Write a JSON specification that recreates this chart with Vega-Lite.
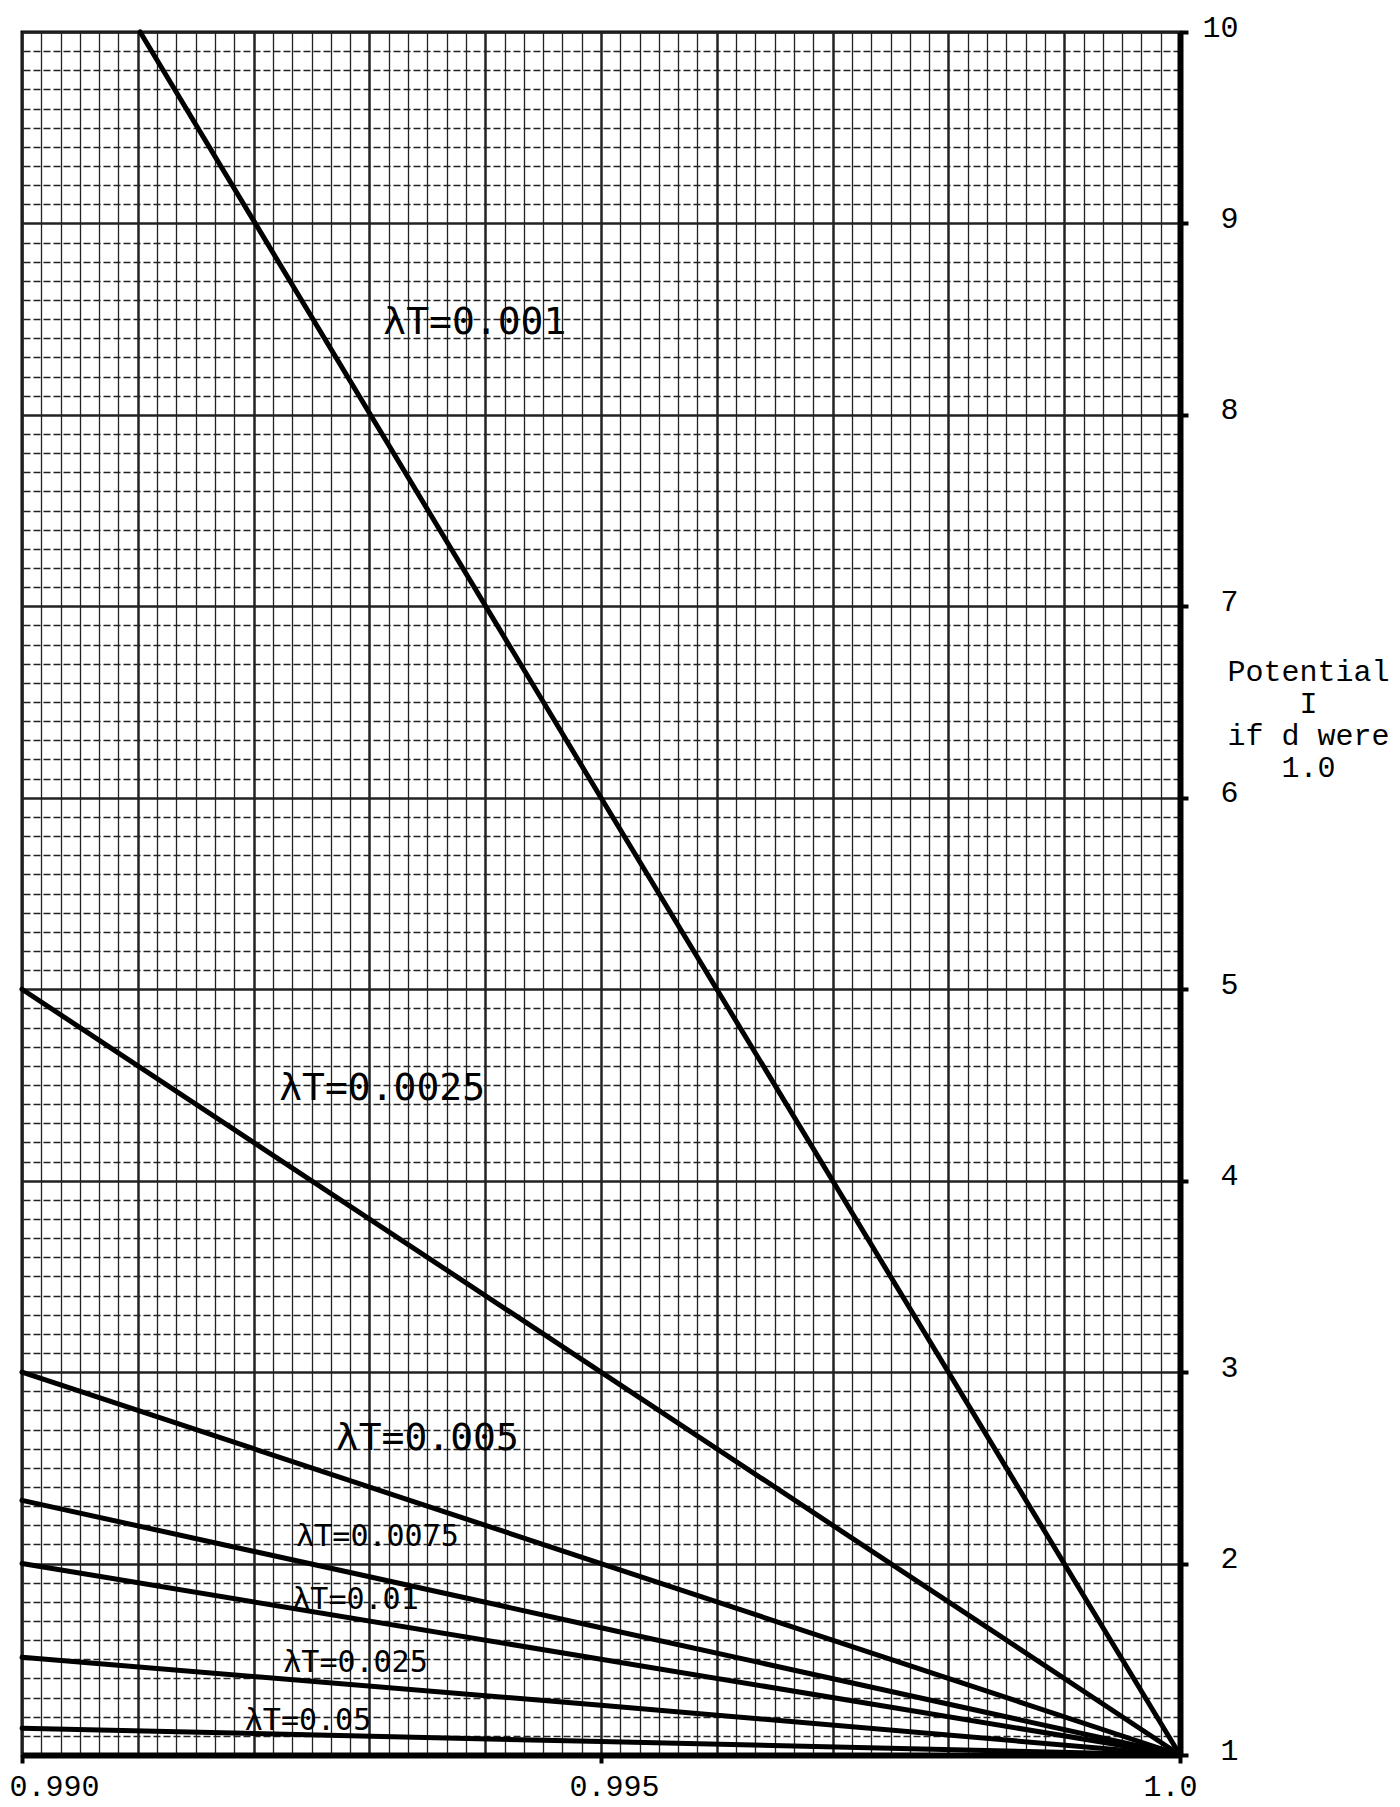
{
  "$schema": "https://vega.github.io/schema/vega-lite/v6.json",
  "width": 1158,
  "height": 1723,
  "autosize": {"type": "none"},
  "padding": {"left": 22, "top": 32, "right": 220, "bottom": 52},
  "background": "white",
  "config": {"view": {"stroke": "black", "strokeWidth": 3}},
  "datasets": {
    "curves": [
      {"lambdaT": 0.001, "d": 0.99102, "I": 10.0},
      {"lambdaT": 0.001, "d": 0.995, "I": 6.0},
      {"lambdaT": 0.001, "d": 1.0, "I": 1.0},
      {"lambdaT": 0.0025, "d": 0.99, "I": 5.0},
      {"lambdaT": 0.0025, "d": 0.995, "I": 3.0},
      {"lambdaT": 0.0025, "d": 1.0, "I": 1.0},
      {"lambdaT": 0.005, "d": 0.99, "I": 3.0},
      {"lambdaT": 0.005, "d": 0.995, "I": 2.0},
      {"lambdaT": 0.005, "d": 1.0, "I": 1.0},
      {"lambdaT": 0.0075, "d": 0.99, "I": 2.33},
      {"lambdaT": 0.0075, "d": 0.995, "I": 1.665},
      {"lambdaT": 0.0075, "d": 1.0, "I": 1.0},
      {"lambdaT": 0.01, "d": 0.99, "I": 2.0},
      {"lambdaT": 0.01, "d": 0.995, "I": 1.5},
      {"lambdaT": 0.01, "d": 1.0, "I": 1.0},
      {"lambdaT": 0.025, "d": 0.99, "I": 1.51},
      {"lambdaT": 0.025, "d": 0.995, "I": 1.26},
      {"lambdaT": 0.025, "d": 1.0, "I": 1.0},
      {"lambdaT": 0.05, "d": 0.99, "I": 1.14},
      {"lambdaT": 0.05, "d": 0.995, "I": 1.07},
      {"lambdaT": 0.05, "d": 1.0, "I": 1.0}
    ],
    "labels": [
      {"lambdaT": 0.001, "label": "λT=0.001", "x": 0.99391, "y": 8.48},
      {"lambdaT": 0.0025, "label": "λT=0.0025", "x": 0.99311, "y": 4.48},
      {"lambdaT": 0.005, "label": "λT=0.005", "x": 0.9935, "y": 2.65},
      {"lambdaT": 0.0075, "label": "λT=0.0075", "x": 0.99307, "y": 2.14},
      {"lambdaT": 0.01, "label": "λT=0.01", "x": 0.99288, "y": 1.81},
      {"lambdaT": 0.025, "label": "λT=0.025", "x": 0.99288, "y": 1.48},
      {"lambdaT": 0.05, "label": "λT=0.05", "x": 0.99247, "y": 1.18}
    ]
  },
  "resolve": {"axis": {"x": "independent", "y": "independent"}},
  "layer": [
    {
      "data": {"name": "curves"},
      "mark": {"type": "line", "color": "black", "strokeWidth": 5, "strokeCap": "round"},
      "encoding": {
        "x": {
          "field": "d",
          "type": "quantitative",
          "scale": {"domain": [0.99, 1.0], "nice": false, "zero": false},
          "axis": {
            "orient": "bottom",
            "title": null,
            "values": [0.99, 0.9901667, 0.9903333, 0.9905, 0.9906667, 0.9908333,
                       0.991, 0.9911667, 0.9913333, 0.9915, 0.9916667, 0.9918333,
                       0.992, 0.9921667, 0.9923333, 0.9925, 0.9926667, 0.9928333,
                       0.993, 0.9931667, 0.9933333, 0.9935, 0.9936667, 0.9938333,
                       0.994, 0.9941667, 0.9943333, 0.9945, 0.9946667, 0.9948333,
                       0.995, 0.9951667, 0.9953333, 0.9955, 0.9956667, 0.9958333,
                       0.996, 0.9961667, 0.9963333, 0.9965, 0.9966667, 0.9968333,
                       0.997, 0.9971667, 0.9973333, 0.9975, 0.9976667, 0.9978333,
                       0.998, 0.9981667, 0.9983333, 0.9985, 0.9986667, 0.9988333,
                       0.999, 0.9991667, 0.9993333, 0.9995, 0.9996667, 0.9998333, 1.0],
            "grid": true,
            "gridColor": "#222222",
            "gridWidth": {"condition": {"test": "abs(datum.value*1000 - round(datum.value*1000)) < 0.01", "value": 2.5}, "value": 1.3},
            "domain": true,
            "domainColor": "black",
            "domainWidth": 6,
            "ticks": true,
            "tickColor": "black",
            "tickSize": 8,
            "tickWidth": 4,
            "tickOpacity": {"condition": {"test": "abs(datum.value-0.99)<1e-6 || abs(datum.value-0.995)<1e-6 || abs(datum.value-1)<1e-6", "value": 1}, "value": 0},
            "labelExpr": "abs(datum.value-0.99)<1e-6 ? '0.990' : abs(datum.value-0.995)<1e-6 ? '0.995' : abs(datum.value-1)<1e-6 ? '1.0' : ''",
            "labelFont": "Liberation Mono",
            "labelFontSize": 30,
            "labelColor": "black",
            "labelBaseline": "alphabetic",
            "labelPadding": 32,
            "labelAlign": "center",
            "labelOffset": {"condition": [{"test": "datum.value < 0.9905", "value": 32}, {"test": "datum.value > 0.9995", "value": -10}], "value": 13},
            "labelOverlap": false,
            "labelFlush": false,
            "labelBound": false
          }
        },
        "y": {
          "field": "I",
          "type": "quantitative",
          "scale": {"domain": [1, 10], "nice": false, "zero": false},
          "axis": {
            "orient": "right",
            "values": [1, 1.1, 1.2, 1.3, 1.4, 1.5, 1.6, 1.7, 1.8, 1.9,
                       2, 2.1, 2.2, 2.3, 2.4, 2.5, 2.6, 2.7, 2.8, 2.9,
                       3, 3.1, 3.2, 3.3, 3.4, 3.5, 3.6, 3.7, 3.8, 3.9,
                       4, 4.1, 4.2, 4.3, 4.4, 4.5, 4.6, 4.7, 4.8, 4.9,
                       5, 5.1, 5.2, 5.3, 5.4, 5.5, 5.6, 5.7, 5.8, 5.9,
                       6, 6.1, 6.2, 6.3, 6.4, 6.5, 6.6, 6.7, 6.8, 6.9,
                       7, 7.1, 7.2, 7.3, 7.4, 7.5, 7.6, 7.7, 7.8, 7.9,
                       8, 8.1, 8.2, 8.3, 8.4, 8.5, 8.6, 8.7, 8.8, 8.9,
                       9, 9.1, 9.2, 9.3, 9.4, 9.5, 9.6, 9.7, 9.8, 9.9, 10],
            "grid": true,
            "gridColor": "#222222",
            "gridWidth": {"condition": {"test": "abs(datum.value - round(datum.value)) < 0.001", "value": 2.5}, "value": 1.3},
            "gridDash": {"condition": {"test": "abs(datum.value - round(datum.value)) < 0.001", "value": []}, "value": [7, 3]},
            "domain": true,
            "domainColor": "black",
            "domainWidth": 6,
            "ticks": true,
            "tickColor": "black",
            "tickSize": 8,
            "tickWidth": 4,
            "tickOpacity": {"condition": {"test": "abs(datum.value - round(datum.value)) < 0.001", "value": 1}, "value": 0},
            "labelExpr": "abs(datum.value - round(datum.value)) < 0.001 ? format(datum.value, 'd') : ''",
            "labelFont": "Liberation Mono",
            "labelFontSize": 30,
            "labelColor": "black",
            "labelAlign": "right",
            "labelBaseline": "middle",
            "labelPadding": 50,
            "labelOffset": -5,
            "labelOverlap": false,
            "labelFlush": false,
            "labelBound": false,
            "title": ["Potential", "I", "if d were", "1.0"],
            "titleAngle": 0,
            "titleAlign": "center",
            "titleBaseline": "alphabetic",
            "titleX": 128,
            "titleY": 648,
            "titleFont": "Liberation Mono",
            "titleFontSize": 30,
            "titleFontWeight": "normal",
            "titleLineHeight": 32,
            "titleColor": "black"
          }
        },
        "detail": {"field": "lambdaT", "type": "nominal"}
      }
    },
    {
      "data": {"name": "labels"},
      "transform": [{"filter": "datum.lambdaT <= 0.005"}],
      "mark": {"type": "text", "font": "DejaVu Sans Mono", "fontSize": 38, "color": "black", "align": "center", "baseline": "middle"},
      "encoding": {
        "x": {"field": "x", "type": "quantitative", "axis": null},
        "y": {"field": "y", "type": "quantitative", "axis": null},
        "text": {"field": "label", "type": "nominal"}
      }
    },
    {
      "data": {"name": "labels"},
      "transform": [{"filter": "datum.lambdaT > 0.005"}],
      "mark": {"type": "text", "font": "DejaVu Sans Mono", "fontSize": 30, "color": "black", "align": "center", "baseline": "middle"},
      "encoding": {
        "x": {"field": "x", "type": "quantitative", "axis": null},
        "y": {"field": "y", "type": "quantitative", "axis": null},
        "text": {"field": "label", "type": "nominal"}
      }
    }
  ]
}
